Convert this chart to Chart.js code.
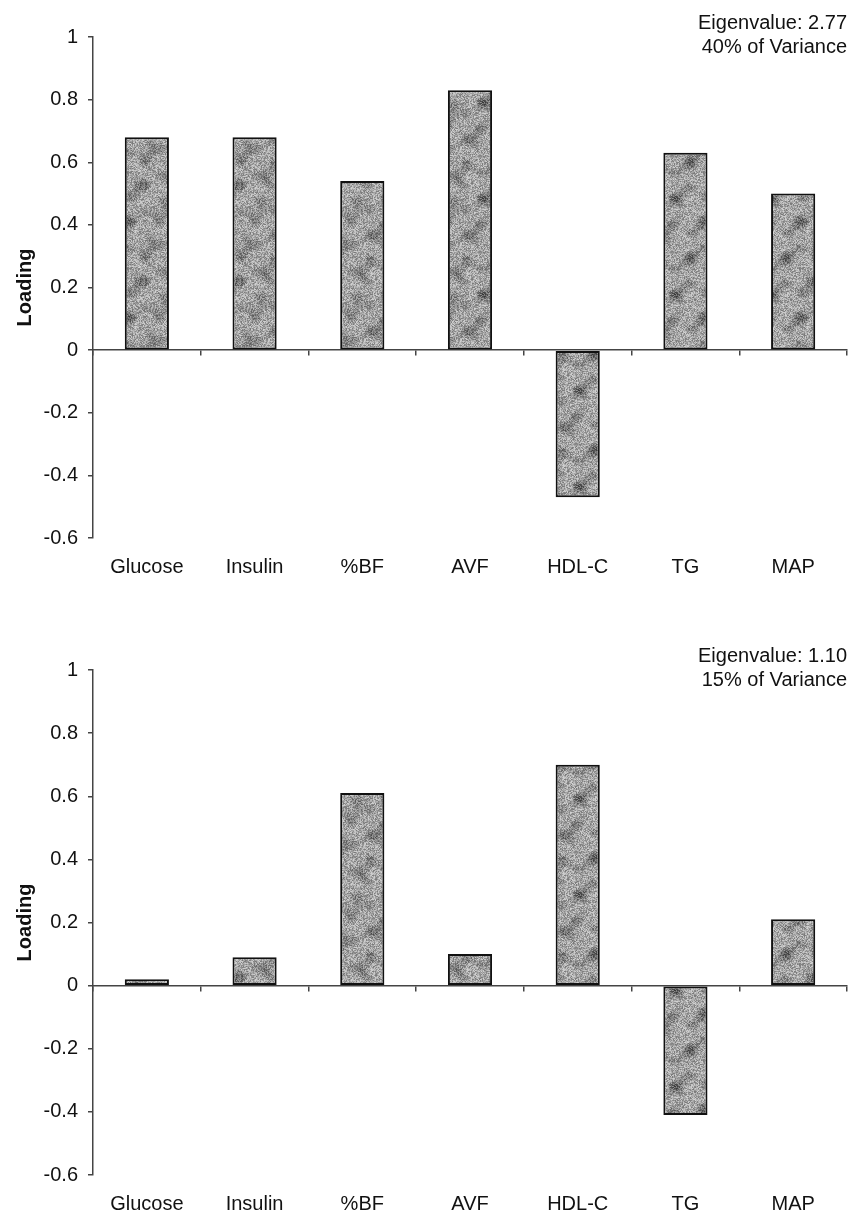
<!DOCTYPE html>
<html>
<head>
<meta charset="utf-8">
<script src="https://cdn.jsdelivr.net/npm/chart.js@4.4.1/dist/chart.umd.min.js"></script>
<style>
	html, body { margin: 0; padding: 0; background: #fff; }
	#wrap { position: relative; width: 852px; height: 1213px; }
	canvas { position: absolute; left: 0; }
	#fator1 { top: 0; }
	#fator2 { top: 600px; }
</style>
</head>
<body>
<div id="wrap">
	<canvas id="fator1" width="852" height="600"></canvas>
	<canvas id="fator2" width="852" height="613"></canvas>
</div>
<script>
const categorias = ["Glucose", "Insulin", "%BF", "AVF", "HDL-C", "TG", "MAP"];
const cargasFator1 = [0.68, 0.68, 0.54, 0.83, -0.47, 0.63, 0.50];
const cargasFator2 = [0.02, 0.09, 0.61, 0.10, 0.70, -0.41, 0.21];
const yTickLabels = ["-0.6", "-0.4", "-0.2", "0", "0.2", "0.4", "0.6", "0.8", "1"];
const notaFator1 = ["Eigenvalue: 2.77", "40% of Variance"];
const notaFator2 = ["Eigenvalue: 1.10", "15% of Variance"];

(() => {

	Chart.defaults.font.family = '"Liberation Sans", Arial, sans-serif';
	Chart.defaults.font.size = 20;
	Chart.defaults.color = "#111";

	// textura cinza manchada das barras (deterministica)
	const criaTextura = () => {
		const n = 96;
		const c = document.createElement("canvas");
		c.width = n;
		c.height = n;
		const g = c.getContext("2d");
		const img = g.createImageData(n, n);
		for (let y = 0; y < n; y++) {
			for (let x = 0; x < n; x++) {
				const r = Math.sin(x * 12.9898 + y * 78.233) * 43758.5453;
				const ruido = r - Math.floor(r);
				const m1 = Math.sin((x + y) * Math.PI / 24) * Math.cos((x - y) * Math.PI / 48);
				const m2 = Math.sin(x * Math.PI / 16 + 1.3) * Math.sin(y * Math.PI / 12);
				const mancha = Math.max(0, m1 * 0.7 + m2 * 0.5);
				let v = 165 + (ruido - 0.5) * 90 - mancha * 60;
				v = Math.max(30, Math.min(235, v));
				const i = (y * n + x) * 4;
				img.data[i] = v;
				img.data[i + 1] = v;
				img.data[i + 2] = v;
				img.data[i + 3] = 255;
			}
		}
		g.putImageData(img, 0, 0);
		return g.createPattern(c, "repeat");
	};

	const notaPlugin = {
		id: "nota",
		afterDraw(chart, args, opts) {
			const ctx = chart.ctx;
			const area = chart.chartArea;
			ctx.save();
			ctx.font = '20px "Liberation Sans", Arial, sans-serif';
			ctx.fillStyle = "#111";
			ctx.textAlign = "right";
			ctx.textBaseline = "middle";
			opts.linhas.forEach((linha, i) => {
				ctx.fillText(linha, area.right, area.top - 14 + i * 24);
			});
			ctx.restore();
		}
	};

	const textura = criaTextura();

	const chartFator = (id, cargas, nota, topo, alturaX) => {
		new Chart(id, {
			type: "bar",
			data: {
				labels: categorias,
				datasets: [{
					data: cargas,
					backgroundColor: textura,
					borderColor: "#111",
					borderWidth: 2,
					borderSkipped: false,
					barPercentage: 0.41,
					categoryPercentage: 1,
					xAxisID: "x",
					yAxisID: "y"
				}]
			},
			plugins: [notaPlugin],
			options: {
				responsive: false,
				animation: false,
				devicePixelRatio: 1,
				layout: { padding: { top: topo, right: 5, bottom: 0, left: 0 } },
				plugins: {
					legend: { display: false },
					tooltip: { enabled: false },
					nota: { linhas: nota }
				},
				scales: {
					x: {
						type: "category",
						position: "bottom",
						offset: true,
						grid: { display: false, drawTicks: false },
						border: { display: false },
						ticks: { padding: 17, maxRotation: 0, color: "#111" },
						afterFit: (scale) => { scale.height = alturaX; }
					},
					x0: {
						type: "category",
						position: { y: 0 },
						offset: true,
						grid: { offset: true, drawOnChartArea: false, drawTicks: true, tickLength: 5, color: "#444", lineWidth: 1.5 },
						border: { color: "#444", width: 1.5 },
						ticks: { display: false }
					},
					y: {
						min: -0.6,
						max: 1,
						ticks: {
							stepSize: 0.2,
							padding: 10,
							color: "#111",
							callback: (valor, indice) => yTickLabels[indice]
						},
						grid: { drawOnChartArea: false, tickLength: 5, color: "#444", lineWidth: 1.5 },
						border: { color: "#444", width: 1.5 },
						title: {
							display: true,
							text: "Loading",
							color: "#111",
							font: { size: 20, weight: "bold" },
							padding: { top: 13, bottom: 0 }
						},
						afterFit: (scale) => { scale.width = 93; }
					}
				}
			}
		});
	};

	chartFator("fator1", cargasFator1, notaFator1, 37, 62);
	chartFator("fator2", cargasFator2, notaFator2, 70, 38);
})();
</script>
</body>
</html>
